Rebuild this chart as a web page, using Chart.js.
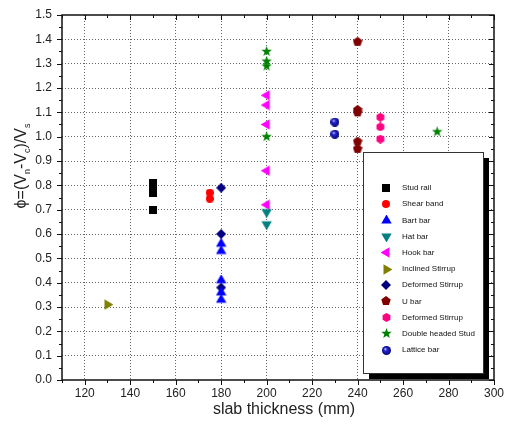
<!DOCTYPE html>
<html>
<head>
<meta charset="utf-8">
<script src="https://cdn.jsdelivr.net/npm/chart.js@4.4.1/dist/chart.umd.min.js"></script>
<style>
  html, body { margin: 0; padding: 0; background: #fff; }
</style>
</head>
<body>
<canvas id="chart" width="505" height="430"></canvas>
<script>
// data: slab thickness (mm) vs phi
const seriesNames = ['Stud rail', 'Shear band', 'Bart bar', 'Hat bar', 'Hook bar', 'Inclined Stirrup',
  'Deformed Stirrup', 'U bar', 'Deformed Stirrup', 'Double headed Stud', 'Lattice bar'];

const studRailX = [150, 150, 150, 150];
const studRailY = [0.81, 0.79, 0.77, 0.70];
const shearBandX = [175, 175];
const shearBandY = [0.77, 0.745];
const bartBarX = [180, 180, 180, 180, 180];
const bartBarY = [0.56, 0.53, 0.41, 0.36, 0.33];
const hatBarX = [200, 200];
const hatBarY = [0.69, 0.64];
const hookBarX = [200, 200, 200, 200, 200];
const hookBarY = [1.17, 1.13, 1.05, 0.86, 0.72];
const inclinedX = [130];
const inclinedY = [0.31];
const deformedX = [180, 180, 180];
const deformedY = [0.79, 0.60, 0.38];
const uBarX = [240, 240, 240, 240, 240];
const uBarY = [1.39, 1.11, 1.10, 0.98, 0.95];
const deformed2X = [250, 250, 250];
const deformed2Y = [1.08, 1.04, 0.99];
const dhStudX = [200, 200, 200, 200, 275];
const dhStudY = [1.35, 1.31, 1.29, 1.00, 1.02];
const latticeX = [230, 230];
const latticeY = [1.06, 1.01];

const xTicks = [120, 140, 160, 180, 200, 220, 240, 260, 280, 300];
const yTicks = [0, 0.1, 0.2, 0.3, 0.4, 0.5, 0.6, 0.7, 0.8, 0.9, 1.0, 1.1, 1.2, 1.3, 1.4, 1.5];

const FONT = "'Liberation Sans', Arial, sans-serif";

// marker images, drawn once and used as pointStyle
function marker(kind, color, size) {
  const c = document.createElement('canvas');
  c.width = size; c.height = size;
  const g = c.getContext('2d');
  const r = size / 2;
  g.translate(r, r);
  g.fillStyle = color;
  g.beginPath();
  function poly(n, rad, rot) {
    for (let i = 0; i < n; i++) {
      const a = rot + i * 2 * Math.PI / n;
      const px = rad * Math.cos(a), py = rad * Math.sin(a);
      if (i === 0) g.moveTo(px, py); else g.lineTo(px, py);
    }
    g.closePath();
  }
  if (kind === 'square') {
    g.rect(-r, -r, size, size);
  } else if (kind === 'circle') {
    g.arc(0, 0, r, 0, Math.PI * 2);
  } else if (kind === 'up') {
    poly(3, r + 0.5, -Math.PI / 2);
  } else if (kind === 'down') {
    poly(3, r + 0.5, Math.PI / 2);
  } else if (kind === 'left') {
    poly(3, r + 0.5, Math.PI);
  } else if (kind === 'right') {
    poly(3, r + 0.5, 0);
  } else if (kind === 'diamond') {
    poly(4, r, -Math.PI / 2);
  } else if (kind === 'pentagon') {
    poly(5, r, -Math.PI / 2);
  } else if (kind === 'hexagon') {
    poly(6, r, -Math.PI / 2);
  } else if (kind === 'star') {
    for (let i = 0; i < 10; i++) {
      const a = -Math.PI / 2 + i * Math.PI / 5;
      const rad = i % 2 === 0 ? r : r * 0.42;
      if (i === 0) g.moveTo(rad * Math.cos(a), rad * Math.sin(a));
      else g.lineTo(rad * Math.cos(a), rad * Math.sin(a));
    }
    g.closePath();
  } else if (kind === 'sphere') {
    const grd = g.createRadialGradient(-r * 0.3, -r * 0.35, 0.3, 0, 0, r);
    grd.addColorStop(0, '#c8c8ff');
    grd.addColorStop(0.3, '#2a2ad0');
    grd.addColorStop(1, '#00007a');
    g.fillStyle = grd;
    g.arc(0, 0, r, 0, Math.PI * 2);
  }
  g.fill();
  return c;
}

const markers = [
  marker('square', '#000000', 8),
  marker('circle', '#ff0000', 8),
  marker('up', '#0000ff', 11),
  marker('down', '#008080', 11),
  marker('left', '#ff00ff', 11),
  marker('right', '#808000', 11),
  marker('diamond', '#000080', 10),
  marker('pentagon', '#800000', 10),
  marker('hexagon', '#ff0080', 9),
  marker('star', '#008000', 11),
  marker('sphere', '#0000a0', 9)
];

const xs = [studRailX, shearBandX, bartBarX, hatBarX, hookBarX, inclinedX, deformedX, uBarX, deformed2X, dhStudX, latticeX];
const ys = [studRailY, shearBandY, bartBarY, hatBarY, hookBarY, inclinedY, deformedY, uBarY, deformed2Y, dhStudY, latticeY];

const datasets = seriesNames.map((name, i) => ({
  label: name,
  data: xs[i].map((x, j) => ({ x: x, y: ys[i][j] })),
  pointStyle: markers[i],
  pointRadius: 5,
  showLine: false
}));

// frame with major/minor ticks (bottom/left outward, top/right inward)
const framePlugin = {
  id: 'frame',
  afterDatasetsDraw(chart) {
    const ctx = chart.ctx;
    const a = chart.chartArea;
    const sx = chart.scales.x, sy = chart.scales.y;
    ctx.save();
    ctx.strokeStyle = '#111';
    ctx.lineWidth = 1.5;
    ctx.strokeRect(a.left, a.top, a.right - a.left, a.bottom - a.top);
    ctx.lineWidth = 1;
    ctx.beginPath();
    for (let v = 110; v <= 300; v += 10) {
      const px = Math.round(sx.getPixelForValue(v)) + 0.5;
      const len = (v % 20 === 0) ? 5 : 3;
      ctx.moveTo(px, a.bottom); ctx.lineTo(px, a.bottom + len);
      ctx.moveTo(px, a.top); ctx.lineTo(px, a.top + len);
    }
    for (let k = 0; k <= 30; k++) {
      const py = Math.round(sy.getPixelForValue(k * 0.05)) + 0.5;
      const len = (k % 2 === 0) ? 5 : 3;
      ctx.moveTo(a.left, py); ctx.lineTo(a.left - len, py);
      ctx.moveTo(a.right, py); ctx.lineTo(a.right - len, py);
    }
    ctx.stroke();
    ctx.restore();
  }
};

// axis titles; the y one has subscripts
const titlePlugin = {
  id: 'titles',
  afterDraw(chart) {
    const ctx = chart.ctx;
    const parts = [['ϕ=(V', false], ['n', true], ['-V', false], ['c', true], [')/V', false], ['s', true]];
    const big = '16px ' + FONT, small = '9px ' + FONT;
    ctx.save();
    ctx.fillStyle = '#222';
    ctx.textBaseline = 'alphabetic';
    ctx.textAlign = 'center';
    ctx.font = '16px ' + FONT;
    ctx.fillText('slab thickness (mm)', 284, 414);
    ctx.textAlign = 'left';
    let total = 0;
    parts.forEach(p => { ctx.font = p[1] ? small : big; total += ctx.measureText(p[0]).width; });
    ctx.translate(26, 166);
    ctx.rotate(-Math.PI / 2);
    let x = -total / 2;
    parts.forEach(p => {
      ctx.font = p[1] ? small : big;
      ctx.fillText(p[0], x, p[1] ? 4 : 0);
      x += ctx.measureText(p[0]).width;
    });
    ctx.restore();
  }
};

// legend box with a drop shadow, inside the plot
const legendPlugin = {
  id: 'boxLegend',
  afterDraw(chart) {
    const ctx = chart.ctx;
    const bx = 363, by = 152, bw = 120, bh = 221;
    ctx.save();
    ctx.fillStyle = '#000';
    ctx.fillRect(bx + 6, by + 6, bw, bh);
    ctx.fillStyle = '#fff';
    ctx.fillRect(bx, by, bw, bh);
    ctx.strokeStyle = '#333';
    ctx.lineWidth = 1;
    ctx.strokeRect(bx + 0.5, by + 0.5, bw, bh);
    ctx.font = '8px ' + FONT;
    ctx.fillStyle = '#111';
    ctx.textBaseline = 'middle';
    seriesNames.forEach((name, i) => {
      const y = 188 + i * 16.2;
      const m = markers[i];
      ctx.drawImage(m, Math.round(386 - m.width / 2), Math.round(y - m.height / 2));
      ctx.fillText(name, 402, y);
    });
    ctx.restore();
  }
};

new Chart(document.getElementById('chart'), {
  type: 'scatter',
  data: { datasets: datasets },
  plugins: [framePlugin, titlePlugin, legendPlugin],
  options: {
    responsive: false,
    animation: false,
    events: [],
    layout: { padding: { top: 15, right: 11, left: 0, bottom: 0 } },
    plugins: { legend: { display: false }, tooltip: { enabled: false } },
    scales: {
      x: {
        type: 'linear',
        min: 110,
        max: 300,
        afterBuildTicks: axis => { axis.ticks = xTicks.map(v => ({ value: v })); },
        afterFit: axis => { axis.height = 50; axis.paddingLeft = 0; axis.paddingRight = 0; },
        ticks: { padding: 6, color: '#222', font: { family: FONT, size: 12 }, maxRotation: 0 },
        grid: {
          drawTicks: false,
          color: c => (c.tick && c.tick.value < 300) ? '#666' : 'rgba(0,0,0,0)',
          lineWidth: 1
        },
        border: { display: false, dash: [1, 2] }
      },
      y: {
        min: 0,
        max: 1.5,
        afterBuildTicks: axis => { axis.ticks = yTicks.map(v => ({ value: v })); },
        afterFit: axis => { axis.width = 62; axis.paddingTop = 0; axis.paddingBottom = 0; },
        ticks: {
          padding: 10,
          color: '#222',
          font: { family: FONT, size: 12 },
          callback: v => Number(v).toFixed(1)
        },
        grid: {
          drawTicks: false,
          color: c => (c.tick && c.tick.value > 0.01 && c.tick.value < 1.49) ? '#666' : 'rgba(0,0,0,0)',
          lineWidth: 1
        },
        border: { display: false, dash: [1, 2] }
      }
    }
  }
});
</script>
</body>
</html>
